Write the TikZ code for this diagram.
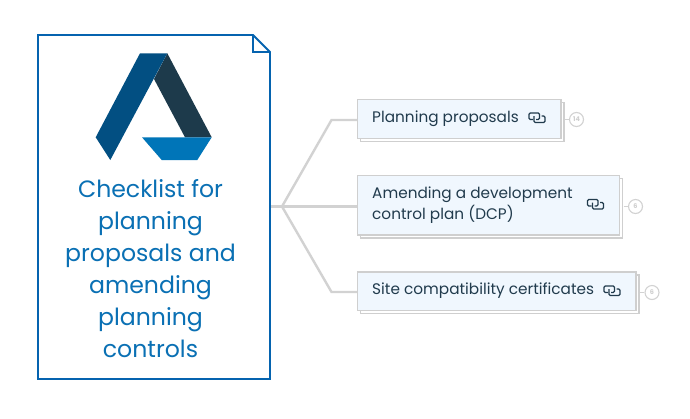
\documentclass[tikz,border=0pt]{standalone}
\usepackage{fontspec}
\setmainfont{Poppins}
\usetikzlibrary{positioning}
\definecolor{frameblue}{HTML}{0563AF}
\definecolor{titleblue}{HTML}{0A70B4}
\definecolor{logoA}{HTML}{024F82}
\definecolor{logoB}{HTML}{1D3A4B}
\definecolor{logoC}{HTML}{0075B8}
\definecolor{edgegrey}{HTML}{D2D2D2}
\definecolor{boxgrey}{HTML}{CFCFCF}
\definecolor{boxfill}{HTML}{F0F7FE}
\definecolor{inktext}{HTML}{213B4D}
\tikzset{
  x=1pt,y=-1pt,
  topicbox/.style={draw=boxgrey,line width=1.9pt,fill=boxfill,minimum height=0pt,inner sep=0pt,anchor=north west},
  backbox/.style={draw=boxgrey,line width=1.9pt,fill=white},
  topictext/.style={text=inktext,font=\fontsize{15.3}{21.5}\selectfont,anchor=west,align=left,inner sep=0pt},
  edge/.style={draw=edgegrey,line width=2.4pt},
  stub/.style={draw=edgegrey,line width=1.1pt},
  badge/.style={circle,draw=edgegrey,line width=1.1pt,fill=white,minimum size=14pt,inner sep=0pt,text=boxgrey,font=\fontsize{6.5}{7}\selectfont\bfseries},
  titletext/.style={text=titleblue,font=\fontsize{23.6}{32}\selectfont,align=center,inner sep=0pt},
  linkicon/.style={draw=inktext,line width=1.3pt,rounded corners=1.2pt},
}
\newcommand{\topicbox}[5]{% name x1 y1 x2 y2
  \draw[backbox] (#2+4,#3+4) rectangle (#4+4,#5+4);
  \node[topicbox,minimum width={#4-#2},minimum height={#5-#3}] (#1) at (#2,#3) {};
}
\newcommand{\linkglyph}[2]{%
  \begin{scope}[shift={(#1,#2)}]
    \draw[linkicon] (-4,2) -- (-8,2) -- (-8,-4.5) -- (2.5,-4.5) -- (2.5,2) -- (-1,2);
    \draw[linkicon] (-3,-1.5) -- (-3,5) -- (8,5) -- (8,-1.5) -- (4.5,-1.5);
  \end{scope}
}
\begin{document}
\begin{tikzpicture}
\useasboundingbox (0,0) rectangle (690,418);
% connectors first, so that the frame stays on top
\coordinate (root) at (270,206.5);
\coordinate (hub) at (282,206.5);
\coordinate (elbowA) at (331.5,120);
\coordinate (elbowC) at (331.5,292);
\coordinate (inA) at (357,120);
\coordinate (inB) at (357,206.5);
\coordinate (inC) at (357,292);
\draw[edge] (root) -- (hub);
\draw[edge] (hub) -- (elbowA) -- (inA);
\draw[edge] (hub) -- (inB);
\draw[edge] (hub) -- (elbowC) -- (inC);
% main sheet
\draw[frameblue,line width=1.9pt,fill=white] (38,35) -- (253,35) -- (270,52) -- (270,379) -- (38,379) -- cycle;
\draw[frameblue,line width=1.9pt] (253,35) -- (253,52) -- (270,52);
% logo
\fill[logoB] (167.3,53.3) -- (211.7,137.3) -- (185,137.3) -- (154,79) -- cycle;
\fill[logoC] (142,137.3) -- (211.7,137.3) -- (197.3,160) -- (161.7,160) -- cycle;
\fill[logoA] (140,53.3) -- (167.3,53.3) -- (110.3,160) -- (95.7,137.3) -- cycle;
% title
\node[titletext] (title) at (150.5,268.5) {Checklist for\\planning\\proposals and\\amending\\planning\\controls};
% topic boxes
\topicbox{boxA}{356.5}{98.5}{560}{137.5}
\topicbox{boxB}{356.5}{174.5}{618.5}{234}
\topicbox{boxC}{356.5}{271}{635}{309.5}
\node[topictext] (tA) at (372,118.3) {Planning proposals};
\node[topictext] (tB) at (372,205) {Amending a development\\control plan (DCP)};
\node[topictext] (tC) at (372,290.8) {Site compatibility certificates};
\linkglyph{537}{117.5}
\linkglyph{595.5}{204}
\linkglyph{612}{290.5}
% badges
\node[badge] (bA) at (576.5,119.5) {14};
\node[badge] (bB) at (635.5,206.5) {6};
\node[badge] (bC) at (652,292.5) {6};
\draw[stub] (565,119.5) -- (bA);
\draw[stub] (623.5,206.5) -- (bB);
\draw[stub] (640,292.5) -- (bC);
\end{tikzpicture}
\end{document}
